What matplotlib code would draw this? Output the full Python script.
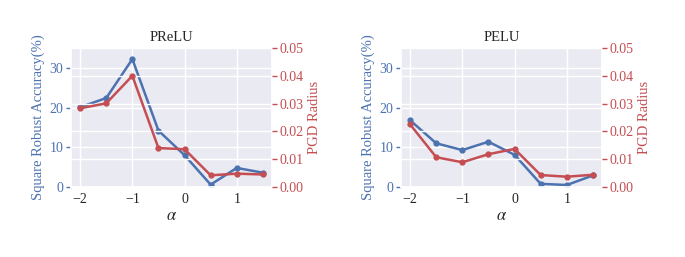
import matplotlib
matplotlib.use("Agg")
import matplotlib.pyplot as plt
import seaborn as sns

# data
alphas = [-2.0, -1.5, -1.0, -0.5, 0.0, 0.5, 1.0, 1.5]

prelu_acc = [20.1, 22.4, 32.2, 14.2, 8.0, 0.6, 4.8, 3.6]
prelu_pgd = [0.0283, 0.0301, 0.0400, 0.0140, 0.0136, 0.0042, 0.0048, 0.0045]

pelu_acc = [16.8, 11.0, 9.3, 11.4, 8.1, 0.8, 0.5, 2.9]
pelu_pgd = [0.0225, 0.0107, 0.0089, 0.0118, 0.0137, 0.0043, 0.0037, 0.0044]

titles = ["PReLU", "PELU"]
acc_series = [prelu_acc, pelu_acc]
pgd_series = [prelu_pgd, pelu_pgd]

BLUE = "#4C72B0"
RED = "#C44E52"

sns.set_theme(style="darkgrid")
plt.rcParams["font.family"] = ["Liberation Serif", "DejaVu Serif"]
plt.rcParams["mathtext.fontset"] = "stix"

fig = plt.figure(figsize=(6.85, 2.57), dpi=100)
lefts = [71 / 685, 401 / 685]

for left, title, acc, pgd in zip(lefts, titles, acc_series, pgd_series):
    ax = fig.add_axes([left, 70 / 257, 201 / 685, 139 / 257])
    ax.plot(alphas, acc, color=BLUE, marker="o", markersize=3.5, linewidth=1.8)
    ax.set_ylim(0, 35)
    ax.set_yticks([0, 10, 20, 30])
    ax.set_xticks([-2, -1, 0, 1])
    ax.set_ylabel("Square Robust Accuracy(%)", color=BLUE, fontsize=10.5, labelpad=3)
    ax.set_xlabel(r"$\alpha$", fontsize=12, labelpad=2)
    ax.set_title(title, fontsize=10.5, pad=5)
    ax.tick_params(axis="y", colors=BLUE, labelsize=10, length=3.5, width=1, pad=2)
    ax.tick_params(axis="x", labelsize=10, length=0, pad=4)

    ax2 = ax.twinx()
    ax2.plot(alphas, pgd, color=RED, marker="o", markersize=3.5, linewidth=1.8)
    ax2.set_ylim(0, 0.05)
    ax2.set_yticks([0.0, 0.01, 0.02, 0.03, 0.04, 0.05])
    ax2.yaxis.set_major_formatter(matplotlib.ticker.FormatStrFormatter("%.2f"))
    ax2.set_ylabel("PGD Radius", color=RED, fontsize=10.5, labelpad=3)
    ax2.tick_params(axis="y", colors=RED, labelsize=10, length=3.5, width=1, pad=2)
    for sp in ax2.spines.values():
        sp.set_visible(False)

fig.savefig("out.png", dpi=100)
